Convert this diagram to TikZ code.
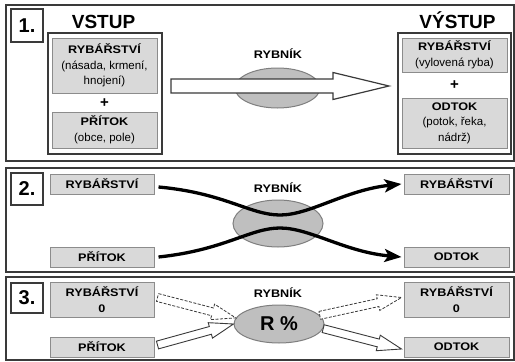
\documentclass[tikz,border=0pt]{standalone}
\usepackage{fontspec}
\setmainfont{Liberation Sans}
\newfontface\bst[FakeStretch=1.15]{Liberation Sans Bold}
\usetikzlibrary{calc,arrows.meta,shapes.geometric}
\definecolor{boxfill}{HTML}{D9D9D9}
\definecolor{boxline}{HTML}{8C8C8C}
\definecolor{ellfill}{HTML}{BFBFBF}
\definecolor{ellline}{HTML}{7F7F7F}
\definecolor{dark}{HTML}{3A3A3A}
\newcommand\harrow[6]{%
  \coordinate (hH) at ($(#3)!#6!(#2)$);
  \draw[#1] ($(#2)!#4!90:(#3)$) -- ($(hH)!#4!90:(#3)$) -- ($(hH)!#5!90:(#3)$) -- (#3)
    -- ($(hH)!#5!-90:(#3)$) -- ($(hH)!#4!-90:(#3)$) -- ($(#2)!#4!-90:(#3)$) -- cycle;}
\newcommand\bt{\bst\fontsize{11}{15}\selectfont}
\tikzset{
  panel/.style={draw=dark,line width=1.6pt},
  labbox/.style={draw=dark,line width=1.3pt,fill=white,inner sep=0pt,
    minimum width=32pt,font=\bfseries\fontsize{20}{22}\selectfont},
  gbox/.style={draw=boxline,fill=boxfill,line width=1pt,inner sep=0pt,align=center,
    minimum width=105pt,font=\fontsize{11.5}{15.5}\selectfont},
  bbox/.style={draw=dark,line width=1.3pt,inner sep=0pt,minimum width=114pt,minimum height=121pt},
  big/.style={font=\bfseries\fontsize{19}{21}\selectfont,anchor=base,inner sep=0pt},
  bl/.style={font=\bt,inner sep=0pt},
  pond/.style={ellipse,draw=ellline,fill=ellfill,line width=1pt,inner sep=0pt},
  plus/.style={font=\bfseries\fontsize{15}{15}\selectfont,inner sep=0pt},
  hollow/.style={draw=dark,fill=white,line width=1.2pt,line join=miter},
  hollowdash/.style={draw=dark,fill=white,line width=0.8pt,dash pattern=on 3pt off 1.5pt},
  hollowthin/.style={draw=dark,fill=white,line width=0.9pt},
  flow/.style={line width=3.3pt,draw=black,-{Stealth[length=17pt,width=13pt,inset=4pt]}}
}
\begin{document}
\begin{tikzpicture}[x=1pt,y=-1pt]
\useasboundingbox (0,0) rectangle (515,362);
% panels
\draw[panel] (6,5) rectangle (514,161);
\draw[panel] (6,168) rectangle (514,272);
\draw[panel] (6,277) rectangle (514,360);

% ---------- panel 1 ----------
\node[labbox,minimum height=33pt] (lab1) at (27,25.5) {1.};
\node[big] (vstup) at (103.5,28.5) {VSTUP};
\node[bbox] (inbox) at (105,93.5) {};
\node[gbox,minimum height=55pt] (in1) at (104.5,65.5) {{\bt RYBÁŘSTVÍ}\\(násada, krmení,\\hnojení)};
\node[plus] (plus1) at (104.5,103) {+};
\node[gbox,minimum height=36pt] (in2) at (104.5,130) {{\bt PŘÍTOK}\\(obce, pole)};

\node[big] (vystup) at (457.5,28.5) {VÝSTUP};
\node[bbox,minimum width=113pt] (outbox) at (454.5,93.5) {};
\node[gbox,minimum height=34pt] (out1) at (454.5,55) {{\bt RYBÁŘSTVÍ}\\(vylovená ryba)};
\node[plus] (plus2) at (454.5,85) {+};
\node[gbox,minimum height=50pt] (out2) at (454.5,123) {{\bt ODTOK}\\(potok, řeka,\\nádrž)};

\node[pond,minimum width=85pt,minimum height=40pt] (ell1) at (277.5,88) {};
\node[bl] (ryb1) at (278,54) {RYBNÍK};
\coordinate (a1s) at (171,86);
\coordinate (a1e) at (389,86);
\harrow{hollow}{a1s}{a1e}{7pt}{13.5pt}{56pt}

% ---------- panel 2 ----------
\node[labbox,minimum height=32pt] (lab2) at (27,189) {2.};
\node[gbox,minimum width=104pt,minimum height=20pt] (l2a) at (102,184) {\bt RYBÁŘSTVÍ};
\node[gbox,minimum width=104pt,minimum height=20pt] (l2b) at (102,257) {\bt PŘÍTOK};
\node[gbox,minimum height=20pt] (r2a) at (456.5,184) {\bt RYBÁŘSTVÍ};
\node[gbox,minimum height=20pt] (r2b) at (456.5,257) {\bt ODTOK};
\node[pond,minimum width=90pt,minimum height=47pt] (ell2) at (278,223.5) {};
\node[bl] (ryb2) at (278,188) {RYBNÍK};
\coordinate (m2a) at (280,215);
\coordinate (m2b) at (280,228);
\draw[flow] ([xshift=4pt,yshift=-3pt]l2a.east) .. controls (225,193) and (250,215) .. (m2a)
  .. controls (310,215) and (345,190) .. ([xshift=-2pt]r2a.west);
\draw[flow] ([xshift=4pt]l2b.east) .. controls (225,250) and (250,228) .. (m2b)
  .. controls (310,228) and (345,252) .. ([xshift=-2pt]r2b.west);

% ---------- panel 3 ----------
\node[labbox,minimum height=30pt] (lab3) at (27,298) {3.};
\node[gbox,minimum width=104pt,minimum height=35pt] (l3a) at (102,299.5) {{\bt RYBÁŘSTVÍ}\\{\bt 0}};
\node[gbox,minimum width=104pt,minimum height=20pt] (l3b) at (102,347) {\bt PŘÍTOK};
\node[gbox,minimum height=35pt] (r3a) at (456.5,299.5) {{\bt RYBÁŘSTVÍ}\\{\bt 0}};
\node[gbox,minimum height=20pt] (r3b) at (456.5,347) {\bt ODTOK};
\node[pond,minimum width=90pt,minimum height=38pt,font=\bfseries\fontsize{20}{22}\selectfont] (ell3) at (279,324) {R~\%};
\node[bl] (ryb3) at (278,293) {RYBNÍK};
\coordinate (s3a) at ([xshift=3pt,yshift=2pt]l3a.east);
\coordinate (s3b) at ([xshift=3pt,yshift=2pt]l3b.east);
\coordinate (e3a) at ([xshift=-2pt,yshift=2pt]r3a.west);
\coordinate (e3b) at ([xshift=-2pt,yshift=-2pt]r3b.west);
\coordinate (w3a) at (ell3.172);
\coordinate (w3b) at (ell3.west);
\coordinate (o3a) at (ell3.12);
\coordinate (o3b) at (ell3.-6);
\harrow{hollowdash}{s3a}{w3a}{4pt}{8pt}{24pt}
\harrow{hollowthin}{s3b}{w3b}{4pt}{8pt}{24pt}
\harrow{hollowdash}{o3a}{e3a}{4pt}{8pt}{24pt}
\harrow{hollowthin}{o3b}{e3b}{4pt}{8pt}{24pt}
\end{tikzpicture}
\end{document}
